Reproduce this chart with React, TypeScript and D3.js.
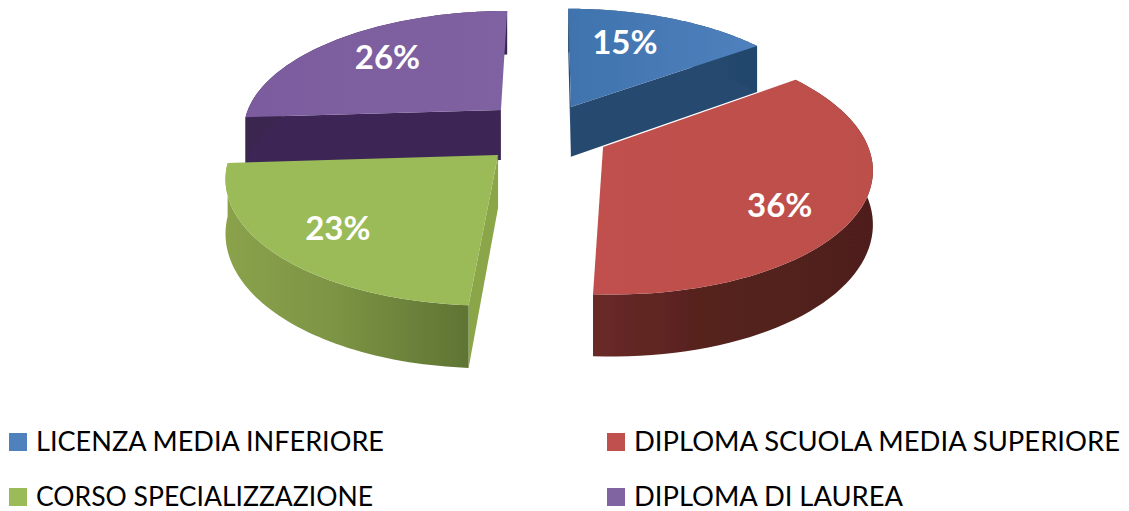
import React from "react";
import * as d3 from "d3";

const categories = ["LICENZA MEDIA INFERIORE", "DIPLOMA SCUOLA MEDIA SUPERIORE", "CORSO SPECIALIZZAZIONE", "DIPLOMA DI LAUREA"];
const values = [15, 36, 23, 26];
const topColors = [["#3f73ae", "#4f81bd"], ["#c0504d", "#bd4f4b"], ["#9bbb59", "#9bbb59"], ["#7c5c9e", "#7f62a1"]];
const outerColors = [["#2a5078", "#24466c"], ["#6a2a28", "#4f1f1b"], ["#8ba24c", "#5f7433"], ["#3a2650", "#3a2650"]];
const outerMid = ["#274b72", "#54211d", "#7c9444", "#3a2650"];
const radialColors = ["#27496f", "#5a2320", "#8aa64a", "#3c2854"];
const legendColors = ["#4f81bd", "#c0504d", "#9bbb59", "#8064a2"];

// layout: world offset of every exploded slice, and label placement (degrees, fraction of radius)
const explodeX = [0.083, 0.2, -0.194, -0.194];
const explodeZ = [-0.156, 0.182, 0.2445, -0.13];
const labelAngle = [21, 125.5, 225, 315];
const labelRadius = [0.673, 0.747, 0.753, 0.7];
const drawOrder = [3, 0, 2, 1];
const showStartWall = [true, false, true, true];
const showEndWall = [true, false, false, false];

const W = 1129, H = 511;
const vx = 550, y0 = 125, Rpx = 258, ry = 118, k = 0.15, depth = 51;

type P = [number, number];
const project = (X: number, Z: number, h: number): P => {
  const s = 1 / (1 - k * Z);
  return [vx + Rpx * X * s, y0 + (ry * Z + h) * s];
};

const pieGen = d3.pie<number>().sort(null).startAngle(0).endAngle(2 * Math.PI);
const arcs = pieGen(values);
const line = d3.line<P>();

function slicePaths(i: number) {
  const a = arcs[i];
  const ox = explodeX[i], oz = explodeZ[i];
  const n = 60;
  const angle = d3.scaleLinear().domain([0, n]).range([a.startAngle, a.endAngle]);
  const ts = d3.range(n + 1).map((t) => angle(t));
  const rim = (h: number) => ts.map((t) => project(ox + Math.sin(t), oz - Math.cos(t), h));
  const topRim = rim(0), botRim = rim(depth);
  const apexT = project(ox, oz, 0), apexB = project(ox, oz, depth);
  const top = line([apexT, ...topRim])! + "Z";
  const outer = line([...topRim, ...botRim.slice().reverse()])! + "Z";
  const wallA = line([apexT, topRim[0], botRim[0], apexB])! + "Z";
  const wallB = line([apexT, topRim[n], botRim[n], apexB])! + "Z";
  return { top, outer, wallA, wallB };
}

function labelPos(i: number): P {
  const t = (labelAngle[i] * Math.PI) / 180;
  const f = labelRadius[i];
  return project(explodeX[i] + f * Math.sin(t), explodeZ[i] - f * Math.cos(t), 0);
}

const legendX = [9, 607];
const legendY = [433, 488];
const legendWidths = [348, 486, 337, 269];

export default function App() {
  return (
    <svg width={W} height={H} style={{ position: "absolute", left: 0, top: 0, background: "#fff" }}>
      <defs>
        <filter id="soft" x="-5%" y="-5%" width="110%" height="110%">
          <feGaussianBlur stdDeviation="0.7" />
        </filter>
        {values.map((_, i) => (
          <React.Fragment key={i}>
            <linearGradient id={`top${i}`} x1="0" x2="1" y1="0" y2="0">
              <stop offset="0" stopColor={topColors[i][0]} />
              <stop offset="1" stopColor={topColors[i][1]} />
            </linearGradient>
            <linearGradient id={`outer${i}`} x1="0" x2="1" y1="0" y2="0">
              <stop offset="0" stopColor={outerColors[i][0]} />
              <stop offset="0.45" stopColor={outerMid[i]} />
              <stop offset="1" stopColor={outerColors[i][1]} />
            </linearGradient>
          </React.Fragment>
        ))}
      </defs>
      <g filter="url(#soft)">
        {drawOrder.map((i) => {
          const p = slicePaths(i);
          return (
            <g key={i}>
              {showStartWall[i] && <path d={p.wallA} fill={radialColors[i]} />}
              {showEndWall[i] && <path d={p.wallB} fill={radialColors[i]} />}
              <path d={p.outer} fill={`url(#outer${i})`} />
              <path d={p.top} fill={`url(#top${i})`} />
            </g>
          );
        })}
      </g>
      {values.map((v, i) => {
        const [x, y] = labelPos(i);
        return (
          <text key={i} x={x} y={y} dy="0.35em" textAnchor="middle" fill="#fff" fontFamily="Lato" fontWeight="700" fontSize={33}>
            {v}%
          </text>
        );
      })}
      {categories.map((c, i) => {
        const x = legendX[i % 2], y = legendY[Math.floor(i / 2)];
        return (
          <g key={c}>
            <rect x={x} y={y} width={18} height={18} fill={legendColors[i]} />
            <text x={x + 27} y={y + 18} fill="#000" fontFamily="Lato" fontSize={27} textLength={legendWidths[i]} lengthAdjust="spacingAndGlyphs">{c}</text>
          </g>
        );
      })}
    </svg>
  );
}
